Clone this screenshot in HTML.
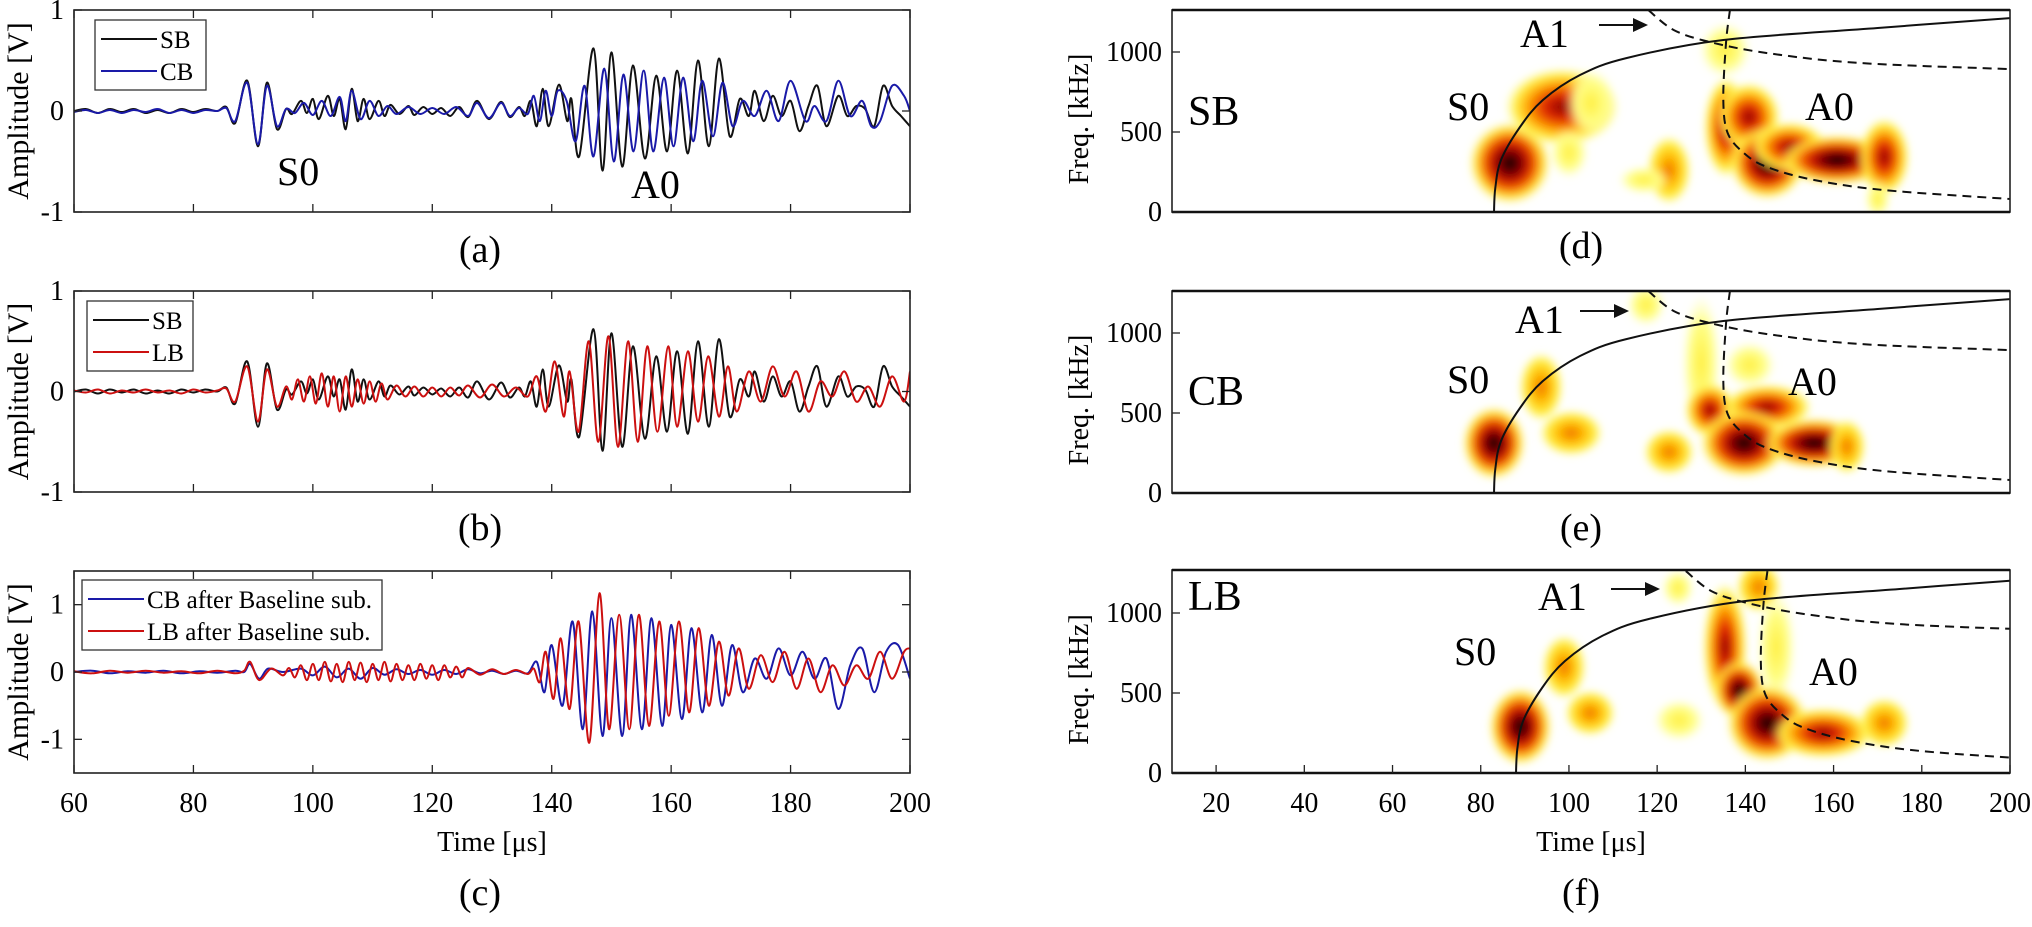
<!DOCTYPE html>
<html><head><meta charset="utf-8"><style>
html,body{margin:0;padding:0;background:#fff;}
svg{display:block;font-family:"Liberation Serif",serif;}
</style></head><body>
<svg id="fig" width="2032" height="927" viewBox="0 0 2032 927" xmlns="http://www.w3.org/2000/svg">
<defs>
<radialGradient id="g3"><stop offset="0" stop-color="#000"/><stop offset="0.22" stop-color="#6a0000"/><stop offset="0.42" stop-color="#c41000"/><stop offset="0.6" stop-color="#f56000"/><stop offset="0.8" stop-color="#ffe030"/><stop offset="1" stop-color="#ffff90" stop-opacity="0"/></radialGradient>
<radialGradient id="g2"><stop offset="0" stop-color="#8a0000"/><stop offset="0.3" stop-color="#e02800"/><stop offset="0.58" stop-color="#ffa000"/><stop offset="0.8" stop-color="#ffee40"/><stop offset="1" stop-color="#ffff90" stop-opacity="0"/></radialGradient>
<radialGradient id="g1"><stop offset="0" stop-color="#f07000"/><stop offset="0.4" stop-color="#ffbb00"/><stop offset="0.75" stop-color="#ffee40"/><stop offset="1" stop-color="#ffff90" stop-opacity="0"/></radialGradient>
<radialGradient id="g0"><stop offset="0" stop-color="#ffee40"/><stop offset="0.6" stop-color="#ffff88"/><stop offset="1" stop-color="#ffffc0" stop-opacity="0"/></radialGradient>
<filter id="soft" x="-20%" y="-20%" width="140%" height="140%"><feGaussianBlur stdDeviation="4"/></filter>
<clipPath id="clipD"><rect x="1172" y="10" width="838" height="202"/></clipPath>
<clipPath id="clipE"><rect x="1172" y="291" width="838" height="202"/></clipPath>
<clipPath id="clipF"><rect x="1172" y="570" width="838" height="203"/></clipPath>
<clipPath id="clipA"><rect x="74" y="10" width="836" height="202"/></clipPath>
<clipPath id="clipB"><rect x="74" y="291" width="836" height="201"/></clipPath>
<clipPath id="clipC"><rect x="74" y="571" width="836" height="202"/></clipPath>
</defs>
<g id="root"></g>
</svg>
<script>
// ---- waveform data: [time µs, amplitude V] extrema ----
const sbWave = [[60,0],[62,0.02],[64,-0.02],[66,0.02],[68,-0.01],[70,0.02],[72,-0.02],[74,0.01],[76,-0.02],[78,0.02],[80,-0.01],[82,0.02],[84,0],[85.5,0.04],[87,-0.12],[89,0.3],[90.8,-0.35],[92.3,0.28],[94,-0.18],[95.5,0.02],[96.5,-0.03],[98,0.1],[99,-0.02],[100,0.12],[101,-0.08],[102.5,0.15],[103.5,-0.05],[104.5,0.12],[105.5,-0.18],[106.5,0.22],[107.5,-0.1],[108.5,0.12],[109.5,-0.08],[111,0.1],[112,-0.05],[113,0.06],[114.5,-0.03],[116,0.05],[117,-0.04],[118.5,0.04],[120,-0.03],[121.5,0.03],[123,-0.05],[124.5,0.04],[126,-0.06],[127.5,0.1],[129.5,-0.08],[131.5,0.09],[133,-0.06],[134.5,0.04],[135.5,-0.05],[136.5,0.1],[137.5,-0.15],[138.5,0.22],[139.5,-0.15],[141.2,0.26],[142.6,-0.1],[143.3,0.12],[144.6,-0.45],[147,0.62],[148.5,-0.59],[150,0.58],[151.8,-0.55],[153.6,0.45],[155.6,-0.47],[157.5,0.35],[159.3,-0.4],[161,0.4],[162.8,-0.42],[164.5,0.5],[166.3,-0.35],[168,0.52],[169.8,-0.25],[171.5,0.12],[173,-0.05],[174,0.2],[175.5,-0.1],[177,0.15],[178.5,-0.05],[180,0.1],[181.5,-0.2],[183,0.05],[184.5,0.25],[186,-0.15],[188,0.15],[189.5,-0.05],[191,0.05],[192.5,0.02],[194,-0.15],[195.5,0.25],[197,0.05],[198.5,-0.05],[200,-0.15]];
const cbWave = [[60,-0.01],[62,0.01],[64,-0.02],[66,0.01],[68,-0.02],[70,0.01],[72,-0.01],[74,0.02],[76,-0.02],[78,0.01],[80,-0.02],[82,0.01],[84,0],[85.5,0.03],[87,-0.1],[89,0.28],[90.8,-0.33],[92.3,0.25],[94,-0.15],[95.5,0.02],[97,-0.02],[98.5,0.08],[100,-0.04],[101.5,0.1],[103,-0.05],[104.5,0.14],[105.5,-0.1],[106.5,0.2],[108,-0.08],[109.5,0.1],[111,-0.05],[112.5,0.05],[114,-0.03],[116,0.04],[118,-0.03],[120,0.03],[122,-0.03],[124,0.04],[126,-0.05],[127.5,0.08],[129.5,-0.07],[131.5,0.08],[133,-0.05],[134.5,0.03],[136,-0.03],[137,0.15],[138,-0.1],[139,0.2],[140,-0.05],[141,0.2],[142.5,0.1],[144,-0.3],[145.5,0.25],[147,-0.45],[148.8,0.42],[150.4,-0.5],[152,0.36],[153.7,-0.4],[155.4,0.4],[157,-0.4],[158.8,0.33],[160.4,-0.35],[162,0.33],[163.7,-0.3],[165.2,0.3],[167,-0.25],[168.6,0.28],[170.3,-0.15],[172,0.1],[174,-0.05],[176,0.2],[178,-0.1],[180,0.3],[182.5,-0.1],[184,0.05],[186,-0.1],[188,0.3],[190,-0.05],[192,0.1],[193.5,-0.15],[195,-0.1],[197,0.25],[199,0.15],[200,0]];
const lbWave = [[60,0.01],[62,-0.01],[64,0.02],[66,-0.02],[68,0.01],[70,-0.01],[72,0.02],[74,-0.01],[76,0.01],[78,-0.02],[80,0.02],[82,-0.01],[84,0.01],[85.5,0.03],[87,-0.1],[89,0.25],[90.8,-0.3],[92.3,0.22],[94,-0.15],[95.5,0.05],[96.5,-0.08],[97.5,0.12],[98.5,-0.1],[99.5,0.15],[100.5,-0.12],[101.5,0.18],[102.5,-0.15],[103.5,0.15],[104.5,-0.2],[105.5,0.15],[106.5,-0.15],[107.5,0.12],[108.5,-0.12],[109.5,0.1],[110.5,-0.1],[111.5,0.08],[112.5,-0.08],[114,0.06],[115.5,-0.05],[117,0.05],[118.5,-0.05],[120,0.04],[121.5,-0.05],[123,0.04],[124.5,-0.04],[126,0.06],[128,-0.06],[130,0.07],[132,-0.05],[134,0.04],[136,-0.05],[137.5,0.15],[139,-0.2],[140.5,0.3],[142,-0.25],[143,0.2],[144.5,-0.4],[146.2,0.5],[147.8,-0.5],[149.5,0.55],[151.1,-0.55],[152.8,0.5],[154.4,-0.5],[156,0.45],[157.7,-0.4],[159.5,0.45],[161,-0.35],[162.8,0.4],[164.5,-0.3],[166.2,0.35],[168,-0.25],[169.5,0.25],[171,-0.2],[173,0.2],[175,-0.1],[177,0.25],[179,-0.05],[181,0.2],[183,-0.2],[185,0.1],[187,-0.05],[189,0.2],[191,-0.1],[193,0.05],[195,-0.15],[197,0.15],[199,-0.1],[200,0.2]];
const cbSubWave = [[60,0],[63,0.02],[66,-0.02],[69,0.01],[72,-0.01],[75,0.02],[78,-0.02],[81,0.01],[84,-0.01],[87,0.02],[88.5,0],[89.5,0.12],[91,-0.1],[92.5,0.05],[95,0],[98,0.05],[100,-0.05],[102,0.08],[104,-0.08],[106,0.05],[108,-0.1],[110,0.06],[112,-0.04],[114,0.04],[116,-0.03],[118,0.03],[120,-0.04],[122,0.03],[124,-0.03],[126,0.04],[128,-0.02],[130,0.02],[132,-0.03],[134,0.02],[136,-0.02],[137.5,0.15],[138.8,-0.3],[140,0.4],[141.8,-0.5],[143.5,0.75],[145.2,-0.85],[146.8,0.9],[148.5,-0.95],[150,0.8],[151.8,-0.95],[153.3,0.85],[155.1,-0.85],[156.7,0.8],[158.5,-0.8],[160,0.7],[161.8,-0.7],[163.4,0.65],[165.2,-0.6],[166.8,0.55],[168.5,-0.5],[170.2,0.4],[172,-0.3],[174,0.2],[176,-0.1],[178,0.35],[180,-0.05],[182,0.3],[184,-0.1],[186,0.2],[188,-0.55],[190,0.1],[192,0.35],[194,-0.3],[196,0.3],[198,0.4],[200,-0.1]];
const lbSubWave = [[60,0.01],[63,-0.02],[66,0.02],[69,-0.01],[72,0.02],[75,-0.01],[78,0.01],[81,-0.02],[84,0.02],[87,-0.02],[88.5,0.02],[89.5,0.15],[91,-0.12],[93,0.05],[95,-0.05],[96,0.06],[97,-0.08],[98,0.1],[99,-0.12],[100,0.12],[101,-0.12],[102,0.15],[103,-0.14],[104,0.12],[105,-0.15],[106,0.15],[107,-0.12],[108,0.14],[109,-0.15],[110,0.12],[111,-0.12],[112,0.15],[113,-0.14],[114,0.12],[115,-0.12],[116,0.1],[117,-0.12],[118,0.12],[119,-0.1],[120,0.1],[121,-0.12],[122,0.1],[123,-0.08],[124,0.08],[125,-0.08],[126,0.06],[128,-0.04],[130,0.04],[132,-0.03],[134,0.03],[136,-0.03],[137,0.05],[138,-0.15],[139,0.3],[140.3,-0.4],[141.5,0.5],[143,-0.55],[144.5,0.75],[146.3,-1.05],[148,1.17],[149.6,-0.85],[151.3,0.85],[153,-0.85],[154.6,0.85],[156.3,-0.8],[158,0.75],[159.6,-0.65],[161.3,0.75],[163,-0.6],[164.6,0.65],[166.3,-0.5],[168,0.45],[169.6,-0.35],[171.3,0.35],[173,-0.25],[175,0.25],[177,-0.15],[179,0.3],[181,-0.25],[183,0.2],[185,-0.3],[187,0.1],[189,-0.2],[191,0.1],[193,-0.1],[195,0.3],[197,-0.1],[199,0.3],[200,0.35]];

// ---- dispersion curves [time µs, freq kHz] ----
const s0Curve = [[83,0],[83.3,150],[84.6,325],[88.9,531],[94.1,700],[102.5,856],[113,962],[135,1075],[170,1150],[200,1212]];
const a0Curve = [[136.5,1262],[135.6,1056],[135,700],[136,493],[139.7,368],[144.9,281],[155.6,200],[171.5,137],[200,81]];
const a1Curve = [[118,1262],[123.8,1137],[132,1062],[145,993],[166,931],[200,893]];
const s0Shift = [0,0,5];
const aShift = [0,0,8.5];

// ---- time-frequency blobs [t, f, rt, rf, level] ----
const blobsD = [[86.6,306,6.5,180,3],[98.4,656,9,170,2],[105,680,4,150,0],[100,370,3,110,0],[122.7,262,3.5,150,1],[117,200,4,60,0],[135.4,1012,4,120,0],[135.6,530,3.5,220,2],[140.8,594,5,150,2],[145,306,6,160,3],[150,406,6,110,2],[160.8,325,9,110,3],[171.5,343,4,170,2],[170,80,2,80,0]];
const blobsE = [[83,312,5,160,3],[93.7,662,3.5,150,1],[100.5,375,5,100,1],[122.7,256,4,100,1],[117.5,1175,3,90,0],[130,812,3,300,0],[141,800,4,100,0],[132,518,4,120,2],[145,537,7,100,2],[139.7,312,7,150,3],[155.6,312,8,110,3],[163,290,3,120,1]];
const blobsF = [[89,290,5,170,3],[98.9,662,3.5,140,1],[104.8,375,4,100,1],[125,330,4,90,0],[124.7,1156,2.5,80,0],[143,1162,3.5,110,1],[135.4,787,3.5,280,2],[147,787,3,250,0],[138.6,518,4,130,3],[145,312,6.5,170,3],[157.6,250,8,110,2],[171.5,312,4,110,1]];

// tick labels
const ampTicksAB = [1,0,-1];
const ampTicksC = [1,0,-1];
const timeTicksL = [60,80,100,120,140,160,180,200];
const timeTicksR = [20,40,60,80,100,120,140,160,180,200];
const freqTicks = [0,500,1000];

const NS = 'http://www.w3.org/2000/svg';
const root = document.getElementById('root');
function el(tag, attrs, parent, text){
  const e = document.createElementNS(NS, tag);
  for (const k in attrs) e.setAttribute(k, attrs[k]);
  if (text !== undefined) e.textContent = text;
  (parent || root).appendChild(e);
  return e;
}
const L = {x0:74, x1:910, t0:60, t1:200};
const R = {x0:1172, x1:2010, t0:10, t1:200};
function xL(t){ return L.x0 + (t - L.t0) * (L.x1 - L.x0) / (L.t1 - L.t0); }
function xR(t){ return R.x0 + (t - R.t0) * (R.x1 - R.x0) / (R.t1 - R.t0); }
const leftPanels = [{top:10,bot:212,vmax:1},{top:291,bot:492,vmax:1},{top:571,bot:773,vmax:1.5}];
const rightPanels = [{top:10,bot:212},{top:291,bot:493},{top:570,bot:773}];
function yAmp(p, v){ const mid=(p.top+p.bot)/2; return mid - v*(p.bot-p.top)/(2*p.vmax); }
function yFreq(p, f){ return p.bot - f*0.16; }

function smoothPath(pts){
  let d = 'M' + pts[0][0].toFixed(1) + ',' + pts[0][1].toFixed(1);
  for (let i=0;i<pts.length-1;i++){
    const p0=pts[Math.max(0,i-1)], p1=pts[i], p2=pts[i+1], p3=pts[Math.min(pts.length-1,i+2)];
    const c1x=p1[0]+(p2[0]-p0[0])/6, c1y=p1[1]+(p2[1]-p0[1])/6;
    const c2x=p2[0]-(p3[0]-p1[0])/6, c2y=p2[1]-(p3[1]-p1[1])/6;
    d += 'C'+c1x.toFixed(1)+','+c1y.toFixed(1)+' '+c2x.toFixed(1)+','+c2y.toFixed(1)+' '+p2[0].toFixed(1)+','+p2[1].toFixed(1);
  }
  return d;
}

// ===== left panels =====
const leftSeries = [
  [[sbWave,'#111','sb-trace'],[cbWave,'#1a1aa8','cb-trace']],
  [[sbWave,'#111','sb-trace'],[lbWave,'#cc1010','lb-trace']],
  [[cbSubWave,'#1a1aa8','cb-sub-trace'],[lbSubWave,'#cc1010','lb-sub-trace']]
];
const clipsL = ['clipA','clipB','clipC'];
const letters = ['(a)','(b)','(c)'];
const letterY = [262, 540, 905];
leftPanels.forEach((p, pi) => {
  const g = el('g', {});
  
  
  const tg = el('g', {'clip-path':'url(#'+clipsL[pi]+')'}, g);
  leftSeries[pi].forEach(s => {
    const pts = s[0].map(d => [xL(d[0]), yAmp(p, d[1])]);
    const path = el('path', {d: smoothPath(pts), fill:'none', stroke:s[1], 'stroke-width':2}, tg);
    
    
  });
  const box = el('rect', {x:L.x0, y:p.top, width:L.x1-L.x0, height:p.bot-p.top, fill:'none', stroke:'#222', 'stroke-width':1.6}, g);
  
  
  const ticks = pi===2 ? ampTicksC : ampTicksAB;
  ticks.forEach(v => {
    const y = yAmp(p, v);
    el('line', {x1:L.x0, x2:L.x0+8, y1:y, y2:y, stroke:'#222', 'stroke-width':1.3}, g);
    el('line', {x1:L.x1, x2:L.x1-8, y1:y, y2:y, stroke:'#222', 'stroke-width':1.3}, g);
    const t = el('text', {x:L.x0-10, y:y+9, 'text-anchor':'end', 'font-size':28}, g, String(v));
    
    
  });
  timeTicksL.forEach(tv => {
    const x = xL(tv);
    el('line', {x1:x, x2:x, y1:p.bot, y2:p.bot-8, stroke:'#222', 'stroke-width':1.3}, g);
    el('line', {x1:x, x2:x, y1:p.top, y2:p.top+8, stroke:'#222', 'stroke-width':1.3}, g);
    if (pi===2){
      const t = el('text', {x:x, y:812, 'text-anchor':'middle', 'font-size':28}, g, String(tv));
      
      
    }
  });
  const yl = el('text', {x:0, y:0, transform:'translate(28,'+((p.top+p.bot)/2)+') rotate(-90)', 'text-anchor':'middle', 'font-size':30}, g, 'Amplitude [V]');
  
  
  const lt = el('text', {x:480, y:letterY[pi], 'text-anchor':'middle', 'font-size':38}, g, letters[pi]);
  
  
});
function legend(x, y, w, entries, name){
  const g = el('g', {});
  
  
  el('rect', {x:x, y:y, width:w, height:entries.length*32+6, fill:'#fff', stroke:'#333', 'stroke-width':1.3}, g);
  entries.forEach((e, i) => {
    const cy = y + 19 + i*32;
    const ln = el('line', {x1:x+6, x2:x+62, y1:cy, y2:cy, stroke:e[1], 'stroke-width':2}, g);
    
    
    const t = el('text', {x:x+65, y:cy+9, 'font-size':25}, g, e[0]);
    
    
  });
}
legend(95, 20, 111, [['SB','#111'],['CB','#1a1aa8']], 'legend-a');
legend(87, 301, 106, [['SB','#111'],['LB','#cc1010']], 'legend-b');
legend(82, 580, 300, [['CB after Baseline sub.','#1a1aa8'],['LB after Baseline sub.','#cc1010']], 'legend-c');
[['S0',277,185],['A0',631,198]].forEach(a => {
  const t = el('text', {x:a[1], y:a[2], 'font-size':40}, root, a[0]);
  
  
});
const tl = el('text', {x:492, y:851, 'text-anchor':'middle', 'font-size':28}, root, 'Time [μs]');



// ===== right panels =====
const blobSets = [blobsD, blobsE, blobsF];
const clipsR = ['clipD','clipE','clipF'];
const rLetters = ['(d)','(e)','(f)'];
const rLetterY = [258, 540, 905];
const caseNames = ['SB','CB','LB'];
const caseY = [125, 405, 610];
const ann = [
  {a1:[1520,47], ar:[1599,1648,25], s0:[1447,120], a0:[1805,120]},
  {a1:[1515,333], ar:[1580,1629,311], s0:[1447,393], a0:[1788,395]},
  {a1:[1538,610], ar:[1611,1660,589], s0:[1454,665], a0:[1809,685]}
];
rightPanels.forEach((p, pi) => {
  const g = el('g', {});
  
  
  const cg = el('g', {'clip-path':'url(#'+clipsR[pi]+')'}, g);
  const bg = el('g', {filter:'url(#soft)'}, cg);
  blobSets[pi].forEach(b => {
    const cx = xR(b[0]), cy = yFreq(p, b[1]);
    const rx = b[2]*(R.x1-R.x0)/(R.t1-R.t0), ry = b[3]*0.16;
    const e = el('ellipse', {cx:cx, cy:cy, rx:rx*1.45, ry:ry*1.45, fill:'url(#g'+b[4]+')'}, bg);
    
    
  });
  const mk = (curve, shift, dash, name) => {
    const pts = curve.map(d => [xR(d[0]+shift), yFreq(p, d[1])]);
    const a = {d: smoothPath(pts), fill:'none', stroke:'#111', 'stroke-width':2};
    if (dash) a['stroke-dasharray'] = '9 6';
    const path = el('path', a, cg);
    
    
  };
  mk(s0Curve, s0Shift[pi], false, 's0-dispersion-curve');
  mk(a0Curve, aShift[pi], true, 'a0-dispersion-curve');
  mk(a1Curve, aShift[pi], true, 'a1-dispersion-curve');
  const box = el('rect', {x:R.x0, y:p.top, width:R.x1-R.x0, height:p.bot-p.top, fill:'none', stroke:'#222', 'stroke-width':1.6}, g);
  
  
  el('line', {x1:R.x0, x2:R.x1, y1:p.bot, y2:p.bot, stroke:'#111', 'stroke-width':2.6}, g);
  el('line', {x1:R.x0, x2:R.x1, y1:p.top, y2:p.top, stroke:'#111', 'stroke-width':2.6}, g);
  freqTicks.forEach(f => {
    const y = yFreq(p, f);
    el('line', {x1:R.x0, x2:R.x0+8, y1:y, y2:y, stroke:'#222', 'stroke-width':1.3}, g);
    const t = el('text', {x:1162, y:y+9, 'text-anchor':'end', 'font-size':28}, g, String(f));
    
    
  });
  if (pi===2) timeTicksR.forEach(tv => {
    const x = xR(tv);
    el('line', {x1:x, x2:x, y1:p.bot, y2:p.bot-8, stroke:'#222', 'stroke-width':1.3}, g);
    const t = el('text', {x:x, y:812, 'text-anchor':'middle', 'font-size':28}, g, String(tv));
    
    
  });
  const yl = el('text', {x:0, y:0, transform:'translate(1088,'+((p.top+p.bot)/2+8)+') rotate(-90)', 'text-anchor':'middle', 'font-size':28}, g, 'Freq. [kHz]');
  
  
  const cn = el('text', {x:1188, y:caseY[pi], 'font-size':42}, g, caseNames[pi]);
  
  
  const A = ann[pi];
  [['A1',A.a1],['S0',A.s0],['A0',A.a0]].forEach(a => {
    const t = el('text', {x:a[1][0], y:a[1][1], 'font-size':40}, g, a[0]);
    
    
  });
  const ar = el('line', {x1:A.ar[0], x2:A.ar[1]-12, y1:A.ar[2], y2:A.ar[2], stroke:'#111', 'stroke-width':2}, g);
  
  
  el('polygon', {points:(A.ar[1]-15)+','+(A.ar[2]-7)+' '+A.ar[1]+','+A.ar[2]+' '+(A.ar[1]-15)+','+(A.ar[2]+7), fill:'#111'}, g);
  const lt = el('text', {x:1581, y:rLetterY[pi], 'text-anchor':'middle', 'font-size':38}, g, rLetters[pi]);
  
  
});
const tr = el('text', {x:1591, y:851, 'text-anchor':'middle', 'font-size':28}, root, 'Time [μs]');


</script>
</body></html>
